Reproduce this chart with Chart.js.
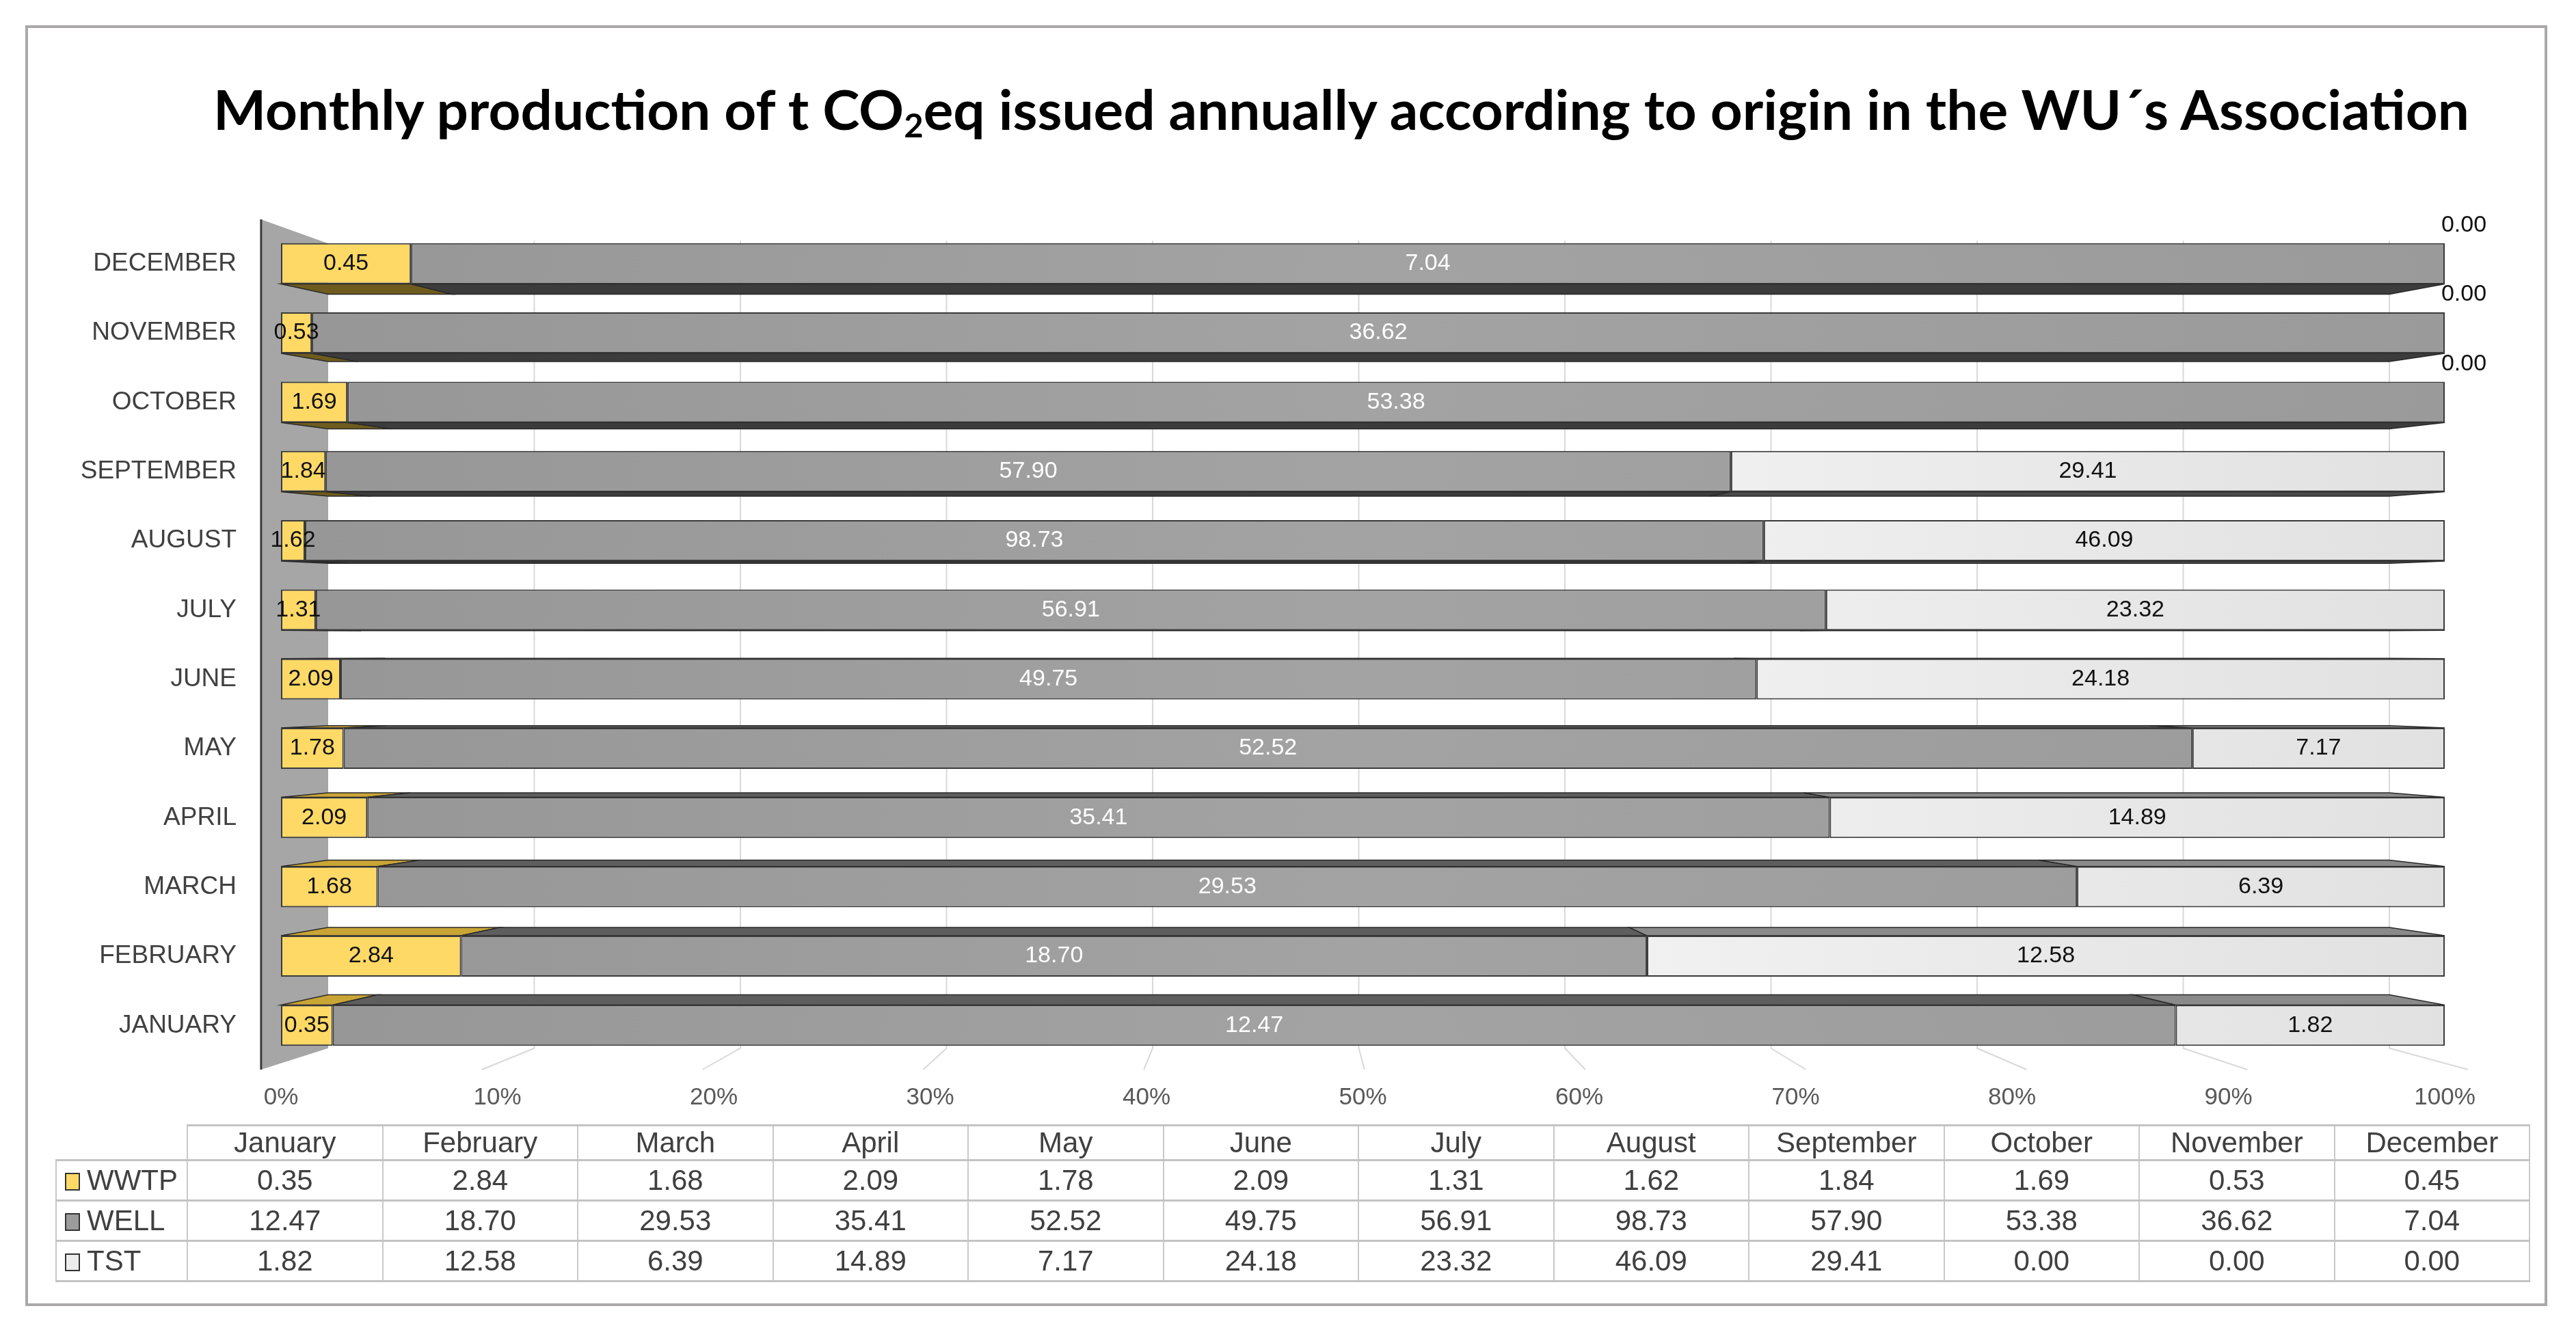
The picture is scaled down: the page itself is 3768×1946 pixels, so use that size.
<!DOCTYPE html>
<html>
<head>
<meta charset="utf-8">
<script src="https://cdn.jsdelivr.net/npm/chart.js@4.4.1/dist/chart.umd.min.js"></script>
<style>
  html, body { margin: 0; padding: 0; background: #fff; }
  body { width: 3768px; height: 1946px; position: relative; overflow: hidden; font-family: "Liberation Sans", Arial, sans-serif; }
  #frame { position: absolute; left: 37px; top: 37px; width: 3689px; height: 1874px; border: 4px solid #aba8a8; box-sizing: border-box; }
  #title { position: absolute; left: 312px; top: 119px; font-family: Lato, "Open Sans", sans-serif; font-weight: 700; font-size: 80px; line-height: 80px; white-space: nowrap; color: #000; transform-origin: left top; }
  #title sub { font-size: 0.6em; vertical-align: -0.22em; line-height: 0; }
  canvas { position: absolute; left: 0; top: 0; }
  #data-table { position: absolute; left: 81px; top: 1645px; border-collapse: collapse; table-layout: fixed; width: 3618px; color: #404040; font-size: 42px; }
  #data-table td { padding: 0; text-align: center; vertical-align: middle; border-left: 2px solid #c9c9c9; border-right: 2px solid #c9c9c9; border-top: 3px solid #c3c3c3; border-bottom: 3px solid #c3c3c3; white-space: nowrap; }
  #data-table tr.head td { height: 46px; }
  #data-table tr.row td { height: 56px; }
  #data-table td.blank { border: none; }
  #data-table td.name { text-align: left; padding-left: 12px; }
  .swatch { display: inline-block; width: 18px; height: 22px; border: 2px solid #333; margin-right: 10px; vertical-align: -1px; }
</style>
</head>
<body>
<div id="frame"></div>
<div id="title">Monthly production of t CO<sub>2</sub>eq issued annually according to origin in the WU´s Association</div>
<canvas id="chart" width="3768" height="1946"></canvas>
<table id="data-table"></table>
<script>
const months = ["January", "February", "March", "April", "May", "June", "July", "August", "September", "October", "November", "December"];
const monthLabels = ["JANUARY", "FEBRUARY", "MARCH", "APRIL", "MAY", "JUNE", "JULY", "AUGUST", "SEPTEMBER", "OCTOBER", "NOVEMBER", "DECEMBER"];
const seriesNames = ["WWTP", "WELL", "TST"];
const wwtp = [0.35, 2.84, 1.68, 2.09, 1.78, 2.09, 1.31, 1.62, 1.84, 1.69, 0.53, 0.45];
const well = [12.47, 18.70, 29.53, 35.41, 52.52, 49.75, 56.91, 98.73, 57.90, 53.38, 36.62, 7.04];
const tst = [1.82, 12.58, 6.39, 14.89, 7.17, 24.18, 23.32, 46.09, 29.41, 0.00, 0.00, 0.00];
const percentTicks = [0, 10, 20, 30, 40, 50, 60, 70, 80, 90, 100];

const series = [wwtp, well, tst];
const frontColors = ["#ffd966", "#9c9c9c", "#ededed"];
const sideColorsBelow = ["#6e5c1e", "#3c3c3c", "#4a4a4a"];
const sideColorsAbove = ["#c9a536", "#5e5e5e", "#8a8a8a"];
const labelColors = ["#111", "#fff", "#111"];

// totals per month -> share of each origin in %
const totals = months.map((m, j) => wwtp[j] + well[j] + tst[j]);
const share = arr => arr.map((v, j) => v / totals[j] * 100);

// Title: squeeze to the width it has in the original
const title = document.getElementById("title");
title.style.transform = "scaleX(" + (3300 / title.offsetWidth) + ")";

// Data table under the chart
const table = document.getElementById("data-table");
let html = '<colgroup><col style="width:192px">' + months.map(() => '<col style="width:285.5px">').join("") + '</colgroup>';
html += '<tr class="head"><td class="blank"></td>' + months.map(m => `<td>${m}</td>`).join("") + '</tr>';
series.forEach((arr, i) => {
    html += `<tr class="row"><td class="name"><span class="swatch" style="background:${frontColors[i]}"></span>${seriesNames[i]}</td>`;
    html += arr.map(v => `<td>${v.toFixed(2)}</td>`).join("") + '</tr>';
});
table.innerHTML = html;

// front face fill: soft horizontal shading like the office 3D bars
function faceFill(i) {
    return context => {
        const chart = context.chart;
        const a = chart.chartArea;
        if (!a) return frontColors[i];
        const g = chart.ctx.createLinearGradient(a.left, 0, a.right, 0);
        if (i === 2) {
            g.addColorStop(0, "#ffffff");
            g.addColorStop(0.6, "#f2f2f2");
            g.addColorStop(1, "#e1e1e1");
        } else if (i === 1) {
            g.addColorStop(0, "#969696");
            g.addColorStop(0.5, "#a3a3a3");
            g.addColorStop(1, "#9a9a9a");
        } else {
            return frontColors[i];
        }
        return g;
    };
}

// 3D look: left wall, back grid, floor lines and the depth faces of the bars
const depthPlugin = {
    id: "depth",
    beforeDatasetsDraw(chart) {
        const { ctx, chartArea: a, scales } = chart;
        const cx = a.left + (a.right - a.left) * 0.46;
        const cy = (a.top + a.bottom) / 2;
        const kx = 0.9526, ky = 0.9716;
        const back = (px, py) => [cx + (px - cx) * kx, cy + (py - cy) * ky];
        const topBack = back(0, a.top)[1];
        const botBack = back(0, a.bottom)[1];
        ctx.save();

        // back grid + floor lines
        ctx.strokeStyle = "#d9d9d9";
        ctx.lineWidth = 2;
        scales.x.ticks.forEach(t => {
            if (t.value === 0) return;
            const fx = scales.x.getPixelForValue(t.value);
            const bx = back(fx, 0)[0];
            ctx.beginPath();
            ctx.moveTo(bx, topBack);
            ctx.lineTo(bx, botBack);
            ctx.lineTo(cx + (fx - cx) * 1.02, a.bottom + 14);
            ctx.stroke();
        });

        // left wall
        const wx0 = cx + (a.left - cx) * 1.02;
        const wx1 = back(a.left, 0)[0];
        ctx.fillStyle = "#a6a6a6";
        ctx.beginPath();
        ctx.moveTo(wx0, a.top - 14);
        ctx.lineTo(wx1, topBack + 4);
        ctx.lineTo(wx1, botBack);
        ctx.lineTo(wx0, a.bottom + 14);
        ctx.closePath();
        ctx.fill();
        ctx.strokeStyle = "#3a3a3a";
        ctx.lineWidth = 3;
        ctx.beginPath();
        ctx.moveTo(wx0, a.top - 14);
        ctx.lineTo(wx0, a.bottom + 14);
        ctx.stroke();

        // depth faces of bars
        ctx.lineWidth = 1.5;
        ctx.strokeStyle = "#2a2a2a";
        chart.data.datasets.forEach((ds, i) => {
            chart.getDatasetMeta(i).data.forEach(bar => {
                const p = bar.getProps(["x", "base", "y", "height"], true);
                if (Math.abs(p.x - p.base) < 0.5) return;
                const below = p.y < cy;
                const edge = below ? p.y + p.height / 2 : p.y - p.height / 2;
                const [bx1, by] = back(p.base, edge);
                const bx2 = back(p.x, edge)[0];
                ctx.fillStyle = below ? sideColorsBelow[i] : sideColorsAbove[i];
                ctx.beginPath();
                ctx.moveTo(p.base, edge);
                ctx.lineTo(p.x, edge);
                ctx.lineTo(bx2, by);
                ctx.lineTo(bx1, by);
                ctx.closePath();
                ctx.fill();
                ctx.stroke();
            });
        });
        ctx.restore();
    }
};

// values written on the bars (raw tonnes, not %)
const valueLabels = {
    id: "valueLabels",
    afterDatasetsDraw(chart) {
        const ctx = chart.ctx;
        ctx.save();
        ctx.font = '34px "Liberation Sans", Arial, sans-serif';
        ctx.textAlign = "center";
        ctx.textBaseline = "middle";
        chart.data.datasets.forEach((ds, i) => {
            chart.getDatasetMeta(i).data.forEach((bar, j) => {
                const v = series[i][j];
                const p = bar.getProps(["x", "base", "y", "height"], true);
                ctx.fillStyle = labelColors[i];
                if (v === 0) {
                    ctx.fillStyle = "#111";
                    ctx.fillText(v.toFixed(2), p.x + 28, p.y - p.height / 2 - 26);
                } else {
                    ctx.fillText(v.toFixed(2), (p.x + p.base) / 2, p.y);
                }
            });
        });
        ctx.restore();
    }
};

const ctx = document.getElementById("chart").getContext("2d");
const chart = new Chart(ctx, {
    type: "bar",
    data: {
        labels: monthLabels,
        datasets: series.map((arr, i) => ({
            label: seriesNames[i],
            data: share(arr),
            backgroundColor: faceFill(i),
            borderColor: "#3a3a3a",
            borderWidth: 2,
            borderSkipped: false,
            barPercentage: 0.59,
            categoryPercentage: 1
        }))
    },
    options: {
        indexAxis: "y",
        responsive: false,
        animation: false,
        devicePixelRatio: 1,
        layout: { padding: { left: 0, top: 335, right: 192, bottom: 305 } },
        scales: {
            x: {
                stacked: true,
                min: 0,
                max: 100,
                afterBuildTicks: s => { s.ticks = percentTicks.map(v => ({ value: v })); },
                ticks: {
                    callback: v => v + "%",
                    color: "#595959",
                    font: { family: '"Liberation Sans", Arial, sans-serif', size: 35 },
                    padding: 34,
                    maxRotation: 0
                },
                grid: { display: false, drawTicks: false },
                border: { display: false },
                afterFit: s => { s.height = 90; }
            },
            y: {
                stacked: true,
                reverse: true,
                ticks: {
                    color: "#404040",
                    font: { family: '"Liberation Sans", Arial, sans-serif', size: 37 },
                    padding: 65
                },
                grid: { display: false, drawTicks: false },
                border: { display: false },
                afterFit: s => { s.width = 411; }
            }
        },
        plugins: {
            legend: { display: false },
            tooltip: { enabled: false }
        }
    },
    plugins: [depthPlugin, valueLabels]
});
</script>
</body>
</html>
